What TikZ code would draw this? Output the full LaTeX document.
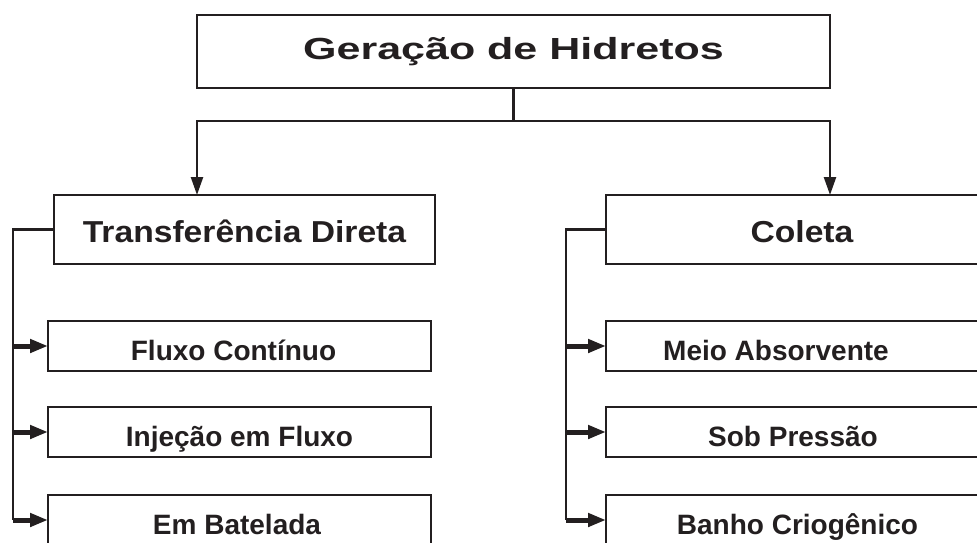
\documentclass[tikz,border=0pt]{standalone}
\usepackage{fontspec}
\setmainfont{Liberation Sans}
\newfontfamily\titlefont{Liberation Sans}[FakeStretch=1.41]
\newfontfamily\headfont{Liberation Sans}[FakeStretch=1.11]
\usepackage{tikz}
\usetikzlibrary{arrows.meta,positioning}
\definecolor{ink}{HTML}{231F20}

\begin{document}
\begin{tikzpicture}[x=1pt, y=-1pt,
    box/.style={rectangle, draw=ink, line width=2.4pt, inner sep=0pt, outer sep=0pt, text=ink},
    root/.style={box, minimum width=633pt, minimum height=73pt, font=\titlefont\bfseries\fontsize{30.5}{36}\selectfont, text height=15.5pt, text depth=0pt},
    head/.style={box, minimum width=381pt, minimum height=69pt, font=\headfont\bfseries\fontsize{30.3}{36}\selectfont, text height=26.7pt, text depth=0pt},
    item/.style={box, minimum width=383pt, minimum height=50pt, font=\bfseries\fontsize{28}{34}\selectfont, text height=28pt, text depth=0pt},
    conn/.style={draw=ink, line width=2.4pt},
    down/.style={conn, -{Triangle[length=18pt, width=12pt]}},
    stub/.style={draw=ink, line width=5pt, -{Triangle[length=18pt, width=13pt]}}]

    \useasboundingbox (0,0) rectangle (977,543);
    \clip (0,0) rectangle (977,543);

    % Root
    \node[root] (root) at (513.5,51.5) {Geração de Hidretos};
    \coordinate[below=33pt of root.south] (split);

    % Left side - Transferencia Direta
    \node[head] (trans) at (244.5,229.5) {Transferência Direta};
    \node[item, below right=57pt and -6pt of trans.south west] (fluxo) {Fluxo Contínuo\hspace*{12pt}};
    \node[item, below=36pt of fluxo] (injecao) {Injeção em Fluxo};
    \node[item, below=38pt of injecao] (batelada) {Em Batelada\hspace*{5pt}};

    % Right side - Coleta
    \node[head] (coleta) at (796.5,229.5) {\hspace*{11pt}Coleta};
    \node[item, below right=57pt and 0pt of coleta.south west] (meio) {Meio Absorvente\hspace*{43pt}};
    \node[item, below=36pt of meio] (pressao) {Sob Pressão\hspace*{9pt}};
    \node[item, below=38pt of pressao] (banho) {Banho Criogênico};

    % Arrows from the root
    \draw[conn] (root.south) -- (split);
    \draw[down] (split) -| (root.south west |- trans.north);
    \draw[down] (split) -| (root.south east |- coleta.north);

    % Brackets
    \draw[conn] (trans.west) -- ++(-41,0) coordinate (lbus) -- (lbus |- batelada.west);
    \draw[conn] (coleta.west) -- ++(-40,0) coordinate (rbus) -- (rbus |- banho.west);
    \foreach \n in {fluxo, injecao, batelada}
        \draw[stub] (lbus |- \n.west) -- (\n.west);
    \foreach \n in {meio, pressao, banho}
        \draw[stub] (rbus |- \n.west) -- (\n.west);

\end{tikzpicture}
\end{document}
